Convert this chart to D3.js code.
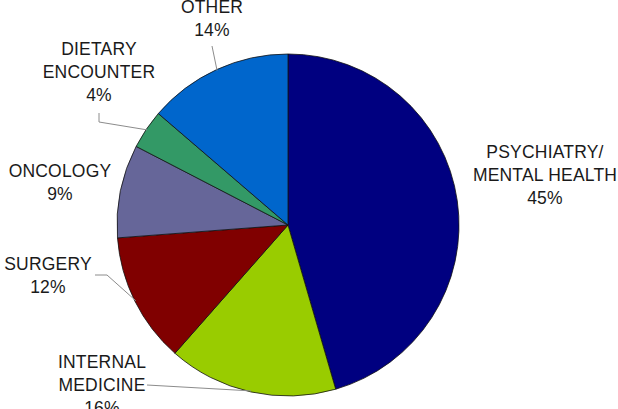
<!DOCTYPE html>
<html><head><meta charset="utf-8">
<script src="https://cdn.jsdelivr.net/npm/d3@7"></script>
<style>html,body{margin:0;padding:0;background:#fff;}svg{display:block;}</style>
</head><body>
<svg id="c" width="618" height="409"></svg>
<script>
const categories = ["PSYCHIATRY/\nMENTAL HEALTH", "INTERNAL\nMEDICINE", "SURGERY", "ONCOLOGY", "DIETARY\nENCOUNTER", "OTHER"];
const values = [45.5, 16.0, 12.3, 8.8, 3.7, 13.7];
const pctLabels = ["45%", "16%", "12%", "9%", "4%", "14%"];
const colors = ["#000080", "#99cc00", "#800000", "#666699", "#339966", "#0066cc"];

// layout of labels (center x, first baseline y) and leader elbows
const labelLayout = [
  {x: 545, y: 158, leader: null},
  {x: 102, y: 368, leader: [[147, 385]]},
  {x: 48, y: 270, leader: [[95, 275], [107, 275]]},
  {x: 60, y: 177, leader: null},
  {x: 99, y: 55, leader: [[99, 113], [99, 122]]},
  {x: 212, y: 13, leader: [[212, 46]]}
];

const cx = 288, cy = 225, r = 171;
const svg = d3.select("#c");
const g = svg.append("g").attr("transform", `translate(${cx},${cy})`);

const pie = d3.pie().sort(null).value(d => d.v);
const data = values.map((v, i) => ({v, i}));
const arcs = pie(data);
const arc = d3.arc().innerRadius(0).outerRadius(r);

g.selectAll("path.slice").data(arcs).enter().append("path")
  .attr("class", "slice")
  .attr("d", arc)
  .attr("fill", d => colors[d.data.i])
  .attr("stroke", "#111")
  .attr("stroke-width", 0.8);

// leader lines
arcs.forEach(a => {
  const L = labelLayout[a.data.i];
  if (!L.leader) return;
  const mid = (a.startAngle + a.endAngle) / 2;
  const end = [cx + Math.sin(mid) * (r - 1), cy - Math.cos(mid) * (r - 1)];
  const pts = L.leader.concat([end]);
  svg.append("path")
    .attr("d", d3.line()(pts))
    .attr("fill", "none")
    .attr("stroke", "#8c8c8c")
    .attr("stroke-width", 1);
});

// labels
const lh = 23;
categories.forEach((c, i) => {
  const L = labelLayout[i];
  const lines = c.split("\n").concat([pctLabels[i]]);
  const t = svg.append("text")
    .attr("text-anchor", "middle")
    .attr("font-family", "Liberation Sans, Arial, sans-serif")
    .attr("font-size", 17.5)
    .attr("letter-spacing", 0.2)
    .attr("fill", "#1a1a1a");
  lines.forEach((ln, k) => {
    t.append("tspan").attr("x", L.x).attr("y", L.y + k * lh).text(ln);
  });
});
</script>
</body></html>
